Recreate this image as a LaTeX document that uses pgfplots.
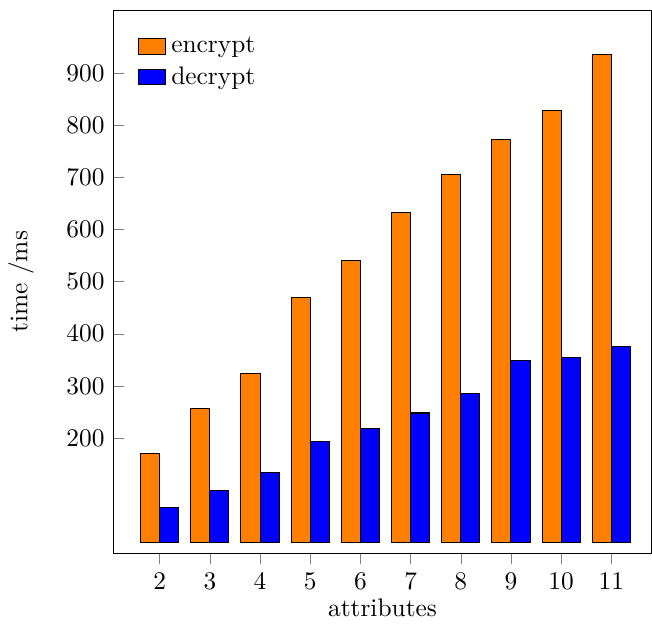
\documentclass[border=0pt]{standalone}
\usepackage{pgfplots}
\pgfplotsset{compat=1.18}
\begin{document}
\begin{tikzpicture}
\begin{axis}[
  scale only axis,
  width=212pt, height=214pt,
  ybar=0pt,
  bar width=0.38,
  xmin=1.08, xmax=11.8,
  ymin=-21, ymax=1021,
  xtick={2,...,11},
  ytick={200,300,...,900},
  x tick style={/pgfplots/tick align=outside},
  xtick pos=bottom,
  ytick pos=left,
  xlabel={attributes},
  xlabel shift=-3pt,
  ylabel={time /ms},
  ylabel shift=6pt,
  legend style={draw=none, at={(0.03,0.97)}, anchor=north west, fill=none},
  legend cell align=left,
  legend image code/.code={\draw[#1] (0cm,-0.1cm) rectangle (0.38cm,0.11cm);},
]
\addplot[draw=black, fill=orange] coordinates {(2,171) (3,256) (4,323) (5,469) (6,540) (7,632) (8,706) (9,773) (10,829) (11,935)};
\addplot[draw=black, fill=blue] coordinates {(2,67) (3,100) (4,133) (5,194) (6,219) (7,248) (8,286) (9,348) (10,355) (11,375)};
\legend{encrypt, decrypt}
\end{axis}
\path ([yshift=4pt]current axis.north);
\end{tikzpicture}
\end{document}
